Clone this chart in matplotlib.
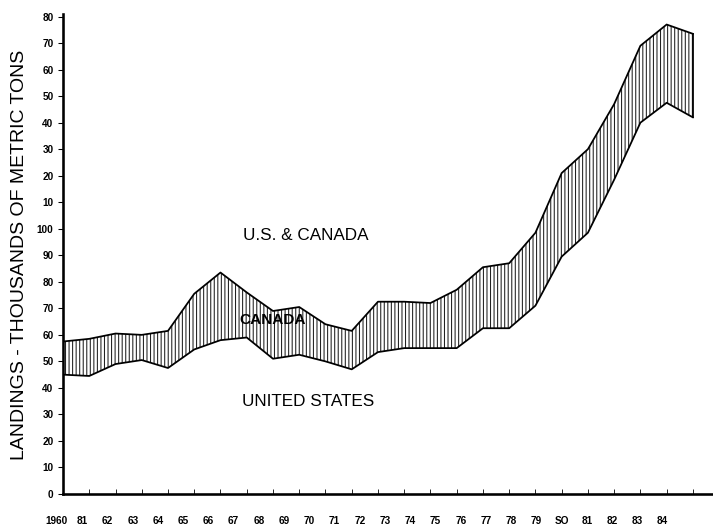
import matplotlib
matplotlib.use('Agg')
import matplotlib.pyplot as plt
import matplotlib.transforms as mtransforms

# landings, thousands of metric tons
years = list(range(1960, 1985))
us = [45, 44.5, 49, 50.5, 47.5, 54.5, 58, 59, 51, 52.5, 50, 47, 53.5,
      55, 55, 55, 62.5, 62.5, 71, 89.5, 98.5, 118.5, 140, 147.5, 142]
us_canada = [57.5, 58.5, 60.5, 60, 61.5, 75.5, 83.5, 76, 69, 70.5, 64, 61.5, 72.5,
             72.5, 72, 77, 85.5, 87, 98.5, 121, 130, 147, 169, 177, 173.5]

x_labels = ['1960', '81', '62', '63', '64', '65', '66', '67', '68', '69', '70', '71',
            '72', '73', '74', '75', '76', '77', '78', '79', 'SO', '81', '82', '83', '84']
y_ticks = list(range(0, 190, 10))
y_labels = ['0', '10', '20', '30', '40', '50', '60', '70', '80', '90', '100',
            '10', '20', '30', '40', '50', '60', '70', '80']

plt.rcParams['font.family'] = ['Liberation Sans', 'DejaVu Sans']
plt.rcParams['hatch.linewidth'] = 0.9

dpi = 85
fig = plt.figure(figsize=(713 / dpi, 527 / dpi), dpi=dpi)
fig.patch.set_facecolor('white')
ax = fig.add_axes([0.0884, 0.0626, 0.911, 0.911])

ax.fill_between(years, us, us_canada, facecolor='white', edgecolor='#222222',
                hatch='||||', linewidth=0)
ax.plot(years, us, color='black', lw=1.5)
ax.plot(years, us_canada, color='black', lw=1.5)
ax.plot([years[0], years[0]], [us[0], us_canada[0]], color='black', lw=1.5)
ax.plot([years[-1], years[-1]], [us[-1], us_canada[-1]], color='black', lw=1.5)

ax.set_xlim(1960, 1984.75)
ax.set_ylim(0, 181)

for s in ['top', 'right']:
    ax.spines[s].set_visible(False)
ax.spines['left'].set_linewidth(2.2)
ax.spines['bottom'].set_linewidth(2.2)

ax.set_yticks(y_ticks)
ax.set_yticklabels(y_labels, fontsize=8.5, fontweight='bold')
ax.tick_params(axis='y', direction='out', length=4, width=0.9, pad=4)

ax.set_xticks(years)
ax.set_xticklabels([])
ax.tick_params(axis='x', direction='in', length=4, width=0.7)

# year labels sit a little off their ticks, as in the printed figure
trans = mtransforms.blended_transform_factory(ax.transData, fig.transFigure)
for i, lab in enumerate(x_labels):
    ax.text(1960 - 0.23 + 0.9617 * i, 1 - 521 / 527, lab, transform=trans,
            ha='center', va='center', fontsize=8.5, fontweight='bold')

fig.text(20 / 713, 1 - 255 / 527, 'LANDINGS - THOUSANDS OF METRIC TONS',
         rotation=90, ha='center', va='center', fontsize=16.5)

ax.text(1969.26, 97.4, 'U.S. & CANADA', ha='center', va='center', fontsize=14.5)
ax.text(1968.0, 65.7, 'CANADA', ha='center', va='center', fontsize=13,
        fontweight='bold', color='black')
ax.text(1969.34, 34.7, 'UNITED STATES', ha='center', va='center', fontsize=14.5)

fig.savefig('out.png', dpi=dpi, facecolor='white')
